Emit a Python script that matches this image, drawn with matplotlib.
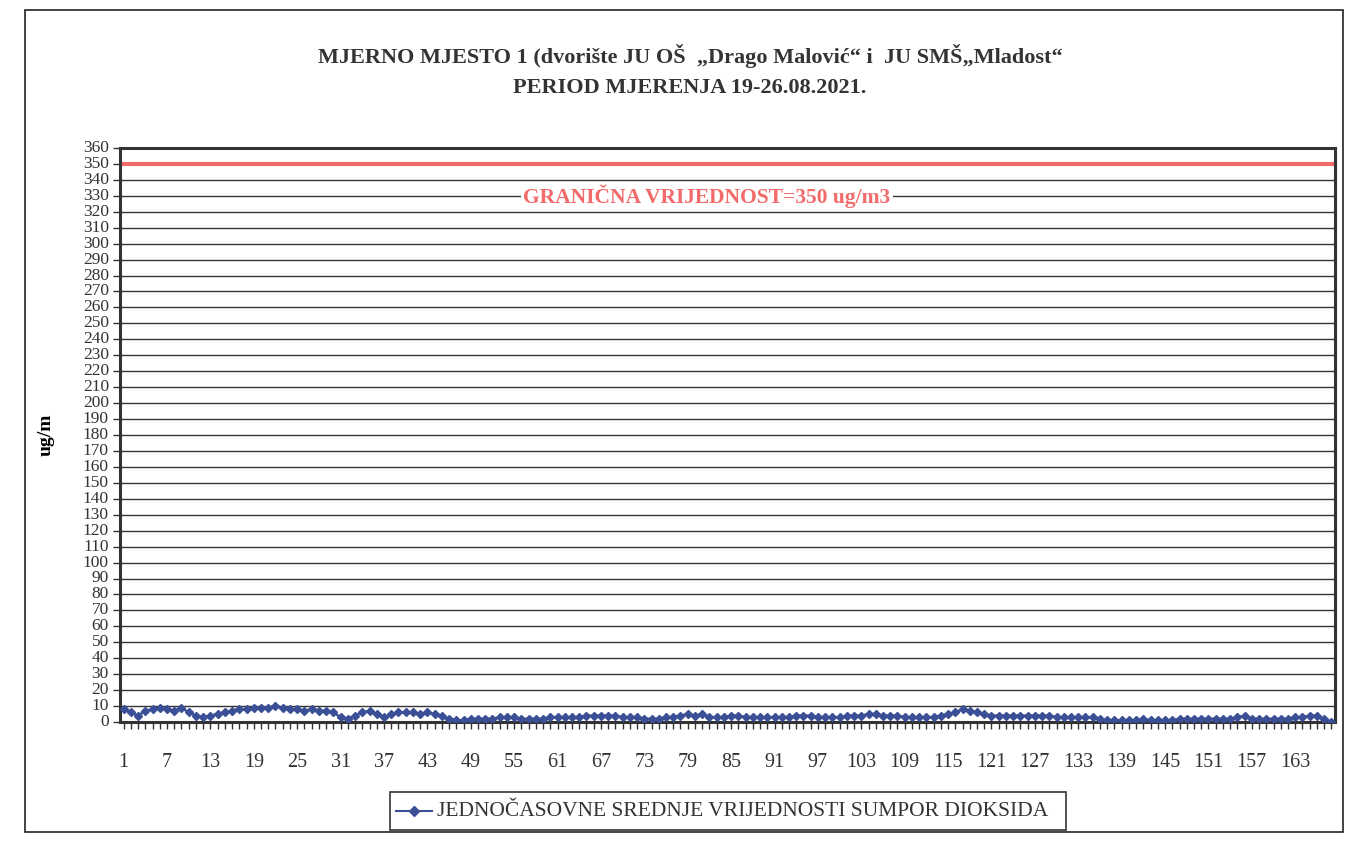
import matplotlib
matplotlib.use("Agg")
import matplotlib.pyplot as plt
from matplotlib.patches import Rectangle
from matplotlib.lines import Line2D

plt.rcParams['font.family'] = ['Liberation Serif', 'DejaVu Serif']

hours = list(range(1, 169))
so2 = [8, 6, 4, 7, 8, 9, 8, 7, 9, 6, 4, 3,
       4, 5, 6, 7, 8, 8, 9, 9, 9, 10, 9, 8,
       8, 7, 8, 7, 7, 6, 3, 2, 4, 6, 7, 5,
       3, 5, 6, 6, 6, 5, 6, 5, 4, 2, 1, 1,
       2, 2, 2, 2, 3, 3, 3, 2, 2, 2, 2, 3,
       3, 3, 3, 3, 4, 4, 4, 4, 4, 3, 3, 3,
       2, 2, 2, 3, 3, 4, 5, 4, 5, 3, 3, 3,
       4, 4, 3, 3, 3, 3, 3, 3, 3, 4, 4, 4,
       3, 3, 3, 3, 4, 4, 4, 5, 5, 4, 4, 4,
       3, 3, 3, 3, 3, 4, 5, 6, 8, 7, 6, 5,
       4, 4, 4, 4, 4, 4, 4, 4, 4, 3, 3, 3,
       3, 3, 3, 2, 1, 1, 1, 1, 1, 2, 1, 1,
       1, 1, 2, 2, 2, 2, 2, 2, 2, 2, 3, 4,
       2, 2, 2, 2, 2, 2, 3, 3, 4, 4, 2, 0]
limit_value = 350
y_ticks = list(range(0, 361, 10))
x_tick_labels = list(range(1, 164, 6))

title = ("MJERNO MJESTO 1 (dvorište JU OŠ  „Drago Malović“ i  JU SMŠ„Mladost“\n"
         "PERIOD MJERENJA 19-26.08.2021.")
limit_text = "GRANIČNA VRIJEDNOST=350 ug/m3"
legend_text = "JEDNOČASOVNE SREDNJE VRIJEDNOSTI SUMPOR DIOKSIDA"

W, H = 1348, 842
fig = plt.figure(figsize=(W / 100, H / 100), dpi=100)
fig.patch.set_facecolor('white')

# outer chart border
fig.add_artist(Rectangle((25 / W, 1 - 832 / H), (1343 - 25) / W, (832 - 10) / H,
                         transform=fig.transFigure, fill=False, edgecolor='#222222', lw=1.2))

left, right, top, bottom = 120, 1335, 148, 722
ax = fig.add_axes([left / W, 1 - bottom / H, (right - left) / W, (bottom - top) / H])

for y in y_ticks:
    ax.axhline(y, color='#333333', lw=1.0, zorder=1)
ax.axhline(limit_value, color='#f26b6b', lw=3, zorder=2)

line_color = '#3b4f96'
ax.plot(hours, so2, color=line_color, lw=1.8, marker='D', markersize=4,
        markerfacecolor=line_color, markeredgecolor=line_color, zorder=3)

ax.set_xlim(0.5, 168.5)
ax.set_ylim(0, 360)
ax.set_yticks(y_ticks)
ax.set_yticklabels([str(v) for v in y_ticks], fontsize=12.5, color='#333333')
ax.set_xticks(hours, minor=True)
ax.set_xticks(x_tick_labels)
ax.set_xticklabels([str(v) for v in x_tick_labels], fontsize=14.5, color='#333333')
ax.tick_params(axis='x', which='both', direction='out', length=5, width=1, pad=17, colors='#333333')
ax.tick_params(axis='y', direction='out', length=5, width=1, pad=3, colors='#333333')
for tl in ax.get_yticklabels():
    tl.set_verticalalignment('center')
for s in ax.spines.values():
    s.set_linewidth(2.2)
    s.set_color('#333333')

ax.text((707 - left) / (right - left), 330, limit_text, transform=ax.get_yaxis_transform(),
        ha='center', va='center', fontsize=15.5, fontweight='bold', color='#f26b6b',
        bbox=dict(facecolor='white', edgecolor='none', pad=1.5), zorder=4)

ax.set_ylabel("ug/m", fontsize=14, fontweight='bold')
ax.yaxis.set_label_coords((55 - left) / (right - left), 0.5)

fig.text(690 / W, 1 - 71 / H, title, ha='center', va='center', fontsize=16,
         fontweight='bold', color='#333333', linespacing=1.7)

# legend box
lx0, ly0, lx1, ly1 = 390, 792, 1066, 830
fig.add_artist(Rectangle((lx0 / W, 1 - ly1 / H), (lx1 - lx0) / W, (ly1 - ly0) / H,
                         transform=fig.transFigure, fill=False, edgecolor='#333333', lw=1.2))
fig.add_artist(Line2D([396 / W, 432 / W], [1 - 811 / H, 1 - 811 / H], transform=fig.transFigure,
                      color=line_color, lw=1.5))
fig.add_artist(Line2D([414 / W], [1 - 811 / H], transform=fig.transFigure,
                      color=line_color, marker='D', markersize=5, lw=0))
fig.text(437 / W, 1 - 812 / H, legend_text, ha='left', va='center', fontsize=15.5, color='#333333')

fig.savefig("out.png", dpi=100)
